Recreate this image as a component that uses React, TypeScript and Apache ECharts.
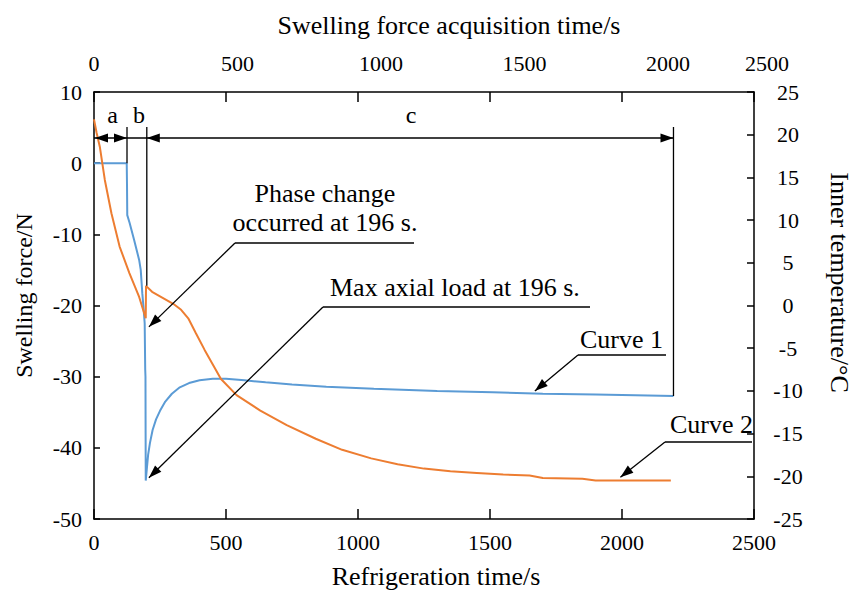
import { useEffect, useRef } from "react";
import * as echarts from "echarts";

// ---- Data ----
const topTickLabels = ["0", "500", "1000", "1500", "2000", "2500"];

// Curve 1: swelling force (N) vs refrigeration time (s)
const forceTime = [0, 60, 124, 125, 126, 135, 152, 171, 177, 183, 188, 192, 194, 195, 195.5, 196, 200, 205, 212, 222, 235, 250, 270, 295, 325, 360, 400, 450, 500, 570, 650, 750, 880, 1060, 1300, 1510, 1700, 1900, 2050, 2195];
const forceValue = [0, 0, 0, -3, -7.3, -8.4, -10.8, -13.6, -15, -18.3, -20.5, -22.5, -29, -30, -38, -44.6, -43, -41, -39.3, -37.5, -36, -34.8, -33.5, -32.4, -31.5, -30.9, -30.5, -30.3, -30.3, -30.5, -30.8, -31.1, -31.4, -31.7, -32, -32.2, -32.4, -32.5, -32.6, -32.7];

// Curve 2: inner temperature (°C) vs refrigeration time (s)
const tempTime = [0, 10, 22, 41, 66, 97, 134, 171, 196, 197, 220, 260, 300, 330, 357, 385, 419, 450, 481, 540, 630, 730, 840, 940, 1050, 1150, 1250, 1350, 1450, 1550, 1650, 1700, 1850, 1900, 2185];
const tempValue = [21.8, 20.2, 18.6, 14.7, 10.8, 6.9, 3.8, 1.0, -1.5, 2.3, 1.6, 0.9, 0.2, -0.5, -1.5, -3.2, -5.2, -6.9, -8.6, -10.5, -12.3, -14.0, -15.6, -16.9, -17.9, -18.6, -19.1, -19.4, -19.6, -19.8, -19.9, -20.2, -20.3, -20.5, -20.5];

// Phase boundaries (s)
const phaseBounds = [0, 125, 200, 2195];
const phaseNames = ["a", "b", "c"];

// Annotation arrow tips (time, value)
const phaseTip = [208, -2.5]; // right axis
const maxLoadTip = [208, -44.2]; // left axis
const curve1Tip = [1670, -32.0]; // left axis
const curve2Tip = [1994, -20.1]; // right axis

const FONT = "'Liberation Serif', 'Times New Roman', serif";
const BLUE = "#5B9BD5";
const ORANGE = "#ED7D31";

function arrowHead(tip: number[], from: number[], len = 13, half = 4.5) {
  const dx = tip[0] - from[0];
  const dy = tip[1] - from[1];
  const d = Math.hypot(dx, dy) || 1;
  const ux = dx / d, uy = dy / d;
  const bx = tip[0] - ux * len, by = tip[1] - uy * len;
  return {
    type: "polygon",
    z: 100,
    shape: { points: [[tip[0], tip[1]], [bx - uy * half, by + ux * half], [bx + uy * half, by - ux * half]] },
    style: { fill: "#000" },
  };
}
function seg(x1: number, y1: number, x2: number, y2: number, w = 1.3) {
  return { type: "line", z: 100, shape: { x1, y1, x2, y2 }, style: { stroke: "#000", lineWidth: w } };
}
function txt(text: string, x: number, y: number, align = "center", size = 26) {
  return {
    type: "text", z: 100, x, y,
    style: { text, fontSize: size, fontFamily: FONT, fill: "#000", align, verticalAlign: "middle" },
  };
}

export default function App() {
  const ref = useRef<HTMLDivElement>(null);
  useEffect(() => {
    if (!ref.current) return;
    const chart = echarts.init(ref.current, undefined, { renderer: "svg" });
    const axisLine = { show: true, onZero: false, lineStyle: { color: "#000", width: 1.5 } };
    const label = { color: "#000", fontSize: 22, fontFamily: FONT };
    const nameStyle = { color: "#000", fontSize: 26, fontFamily: FONT };
    chart.setOption({
      animation: false,
      backgroundColor: "#fff",
      grid: { left: 94, right: 94, top: 92, bottom: 76, containLabel: false },
      xAxis: [
        {
          type: "value", position: "bottom", min: 0, max: 2500, interval: 500,
          name: "Refrigeration time/s", nameLocation: "middle", nameGap: 44,
          nameTextStyle: { ...nameStyle, padding: [0, 0, 0, 24] },
          axisLine, axisTick: { inside: true, length: 10, lineStyle: { color: "#000", width: 1.5 } },
          axisLabel: { ...label, margin: 12, formatter: (v: number) => String(v) }, splitLine: { show: false },
        },
        {
          type: "value", position: "top", min: 0, max: 2500, interval: 500,
          axisLine, axisTick: { inside: true, length: 10, lineStyle: { color: "#000", width: 1.5 } },
          axisLabel: { show: false }, splitLine: { show: false },
        },
        {
          type: "value", position: "top", min: 0, max: 2300, interval: 500,
          name: "Swelling force acquisition time/s", nameLocation: "middle", nameGap: 54,
          nameTextStyle: { ...nameStyle, padding: [0, 0, 0, 50] },
          axisLine: { show: false, onZero: false }, axisTick: { show: false },
          axisLabel: {
            ...label, margin: 18, showMaxLabel: true, showMinLabel: true,
            formatter: (_v: number, i: number) => (i === topTickLabels.length - 1 ? `{last|${topTickLabels[i]}}` : topTickLabels[i] ?? ""),
            rich: { last: { fontSize: 22, fontFamily: FONT, color: "#000", padding: [0, 0, 0, 26] } },
          },
          splitLine: { show: false },
        },
      ],
      yAxis: [
        {
          type: "value", position: "left", min: -50, max: 10, interval: 10,
          name: "Swelling force/N", nameLocation: "middle", nameGap: 58,
          nameTextStyle: { ...nameStyle, fontSize: 24, padding: [0, 0, 0, 20] },
          axisLine, axisTick: { inside: true, length: 6, lineStyle: { color: "#000", width: 1.5 } },
          axisLabel: { ...label, margin: 12 }, splitLine: { show: false },
        },
        {
          type: "value", position: "right", min: -25, max: 25, interval: 5,
          name: "Inner temperature/°C", nameLocation: "middle", nameGap: 72, nameRotate: -90,
          nameTextStyle: { ...nameStyle, padding: [0, 46, 0, 0] },
          axisLine, axisTick: { inside: true, length: 7, lineStyle: { color: "#000", width: 1.5 } },
          axisLabel: { ...label, margin: 34, align: "center" }, splitLine: { show: false },
        },
      ],
      series: [
        {
          name: "Curve 1", type: "line", xAxisIndex: 0, yAxisIndex: 0, showSymbol: false, symbol: "none",
          data: forceTime.map((t, i) => [t, forceValue[i]]),
          lineStyle: { color: BLUE, width: 2 }, itemStyle: { color: BLUE },
        },
        {
          name: "Curve 2", type: "line", xAxisIndex: 0, yAxisIndex: 1, showSymbol: false, symbol: "none",
          data: tempTime.map((t, i) => [t, tempValue[i]]),
          lineStyle: { color: ORANGE, width: 2 }, itemStyle: { color: ORANGE },
        },
      ],
    });

    const pL = (p: number[]) => chart.convertToPixel({ xAxisIndex: 0, yAxisIndex: 0 } as any, p) as number[];
    const pR = (p: number[]) => chart.convertToPixel({ xAxisIndex: 0, yAxisIndex: 1 } as any, p) as number[];

    const by = 138;
    const topY = 127;
    const xs = phaseBounds.map((t) => pL([t, 0])[0]);
    const els: any[] = [];
    els.push(seg(xs[0], by, xs[3], by, 1.3));
    els.push(arrowHead([xs[0] + 1, by], [xs[1], by]));
    els.push(arrowHead([xs[1], by], [xs[0], by]));
    els.push(arrowHead([xs[2], by], [xs[3], by]));
    els.push(arrowHead([xs[3], by], [xs[2], by]));
    const yA = pL([phaseBounds[1], 0])[1];
    const yB = pR([197, 2.3])[1];
    const yC = pL([phaseBounds[3], forceValue[forceValue.length - 1]])[1];
    els.push(seg(xs[1], topY, xs[1], yA, 1.3));
    els.push(seg(xs[2], topY, xs[2], yB, 1.3));
    els.push(seg(xs[3], topY, xs[3], yC, 1.3));
    els.push(txt(phaseNames[0], (xs[0] + xs[1]) / 2 + 2, 115, "center", 24));
    els.push(txt(phaseNames[1], (xs[1] + xs[2]) / 2 + 2, 115, "center", 24));
    els.push(txt(phaseNames[2], 411, 115, "center", 24));

    const t1 = pR(phaseTip);
    els.push(txt("Phase change", 325, 193));
    els.push(txt("occurred at 196 s.", 325, 222));
    els.push(seg(235, 243, 414, 243));
    els.push(seg(235, 243, t1[0], t1[1]));
    els.push(arrowHead(t1, [235, 243]));

    const t2 = pL(maxLoadTip);
    els.push(txt("Max axial load at 196 s.", 330, 287, "left"));
    els.push(seg(323, 307, 590, 307));
    els.push(seg(323, 307, t2[0], t2[1]));
    els.push(arrowHead(t2, [323, 307]));

    const t3 = pL(curve1Tip);
    els.push(txt("Curve 1", 580, 339, "left"));
    els.push(seg(578, 355, 666, 355));
    els.push(seg(578, 355, t3[0], t3[1]));
    els.push(arrowHead(t3, [578, 355]));

    const t4 = pR(curve2Tip);
    els.push(txt("Curve 2", 670, 424, "left"));
    els.push(seg(665, 442, 752, 442));
    els.push(seg(665, 442, t4[0], t4[1]));
    els.push(arrowHead(t4, [665, 442]));

    chart.setOption({ graphic: { elements: els } });
    return () => chart.dispose();
  }, []);
  return <div ref={ref} style={{ position: "absolute", left: 0, top: 0, width: 860, height: 595 }} />;
}
